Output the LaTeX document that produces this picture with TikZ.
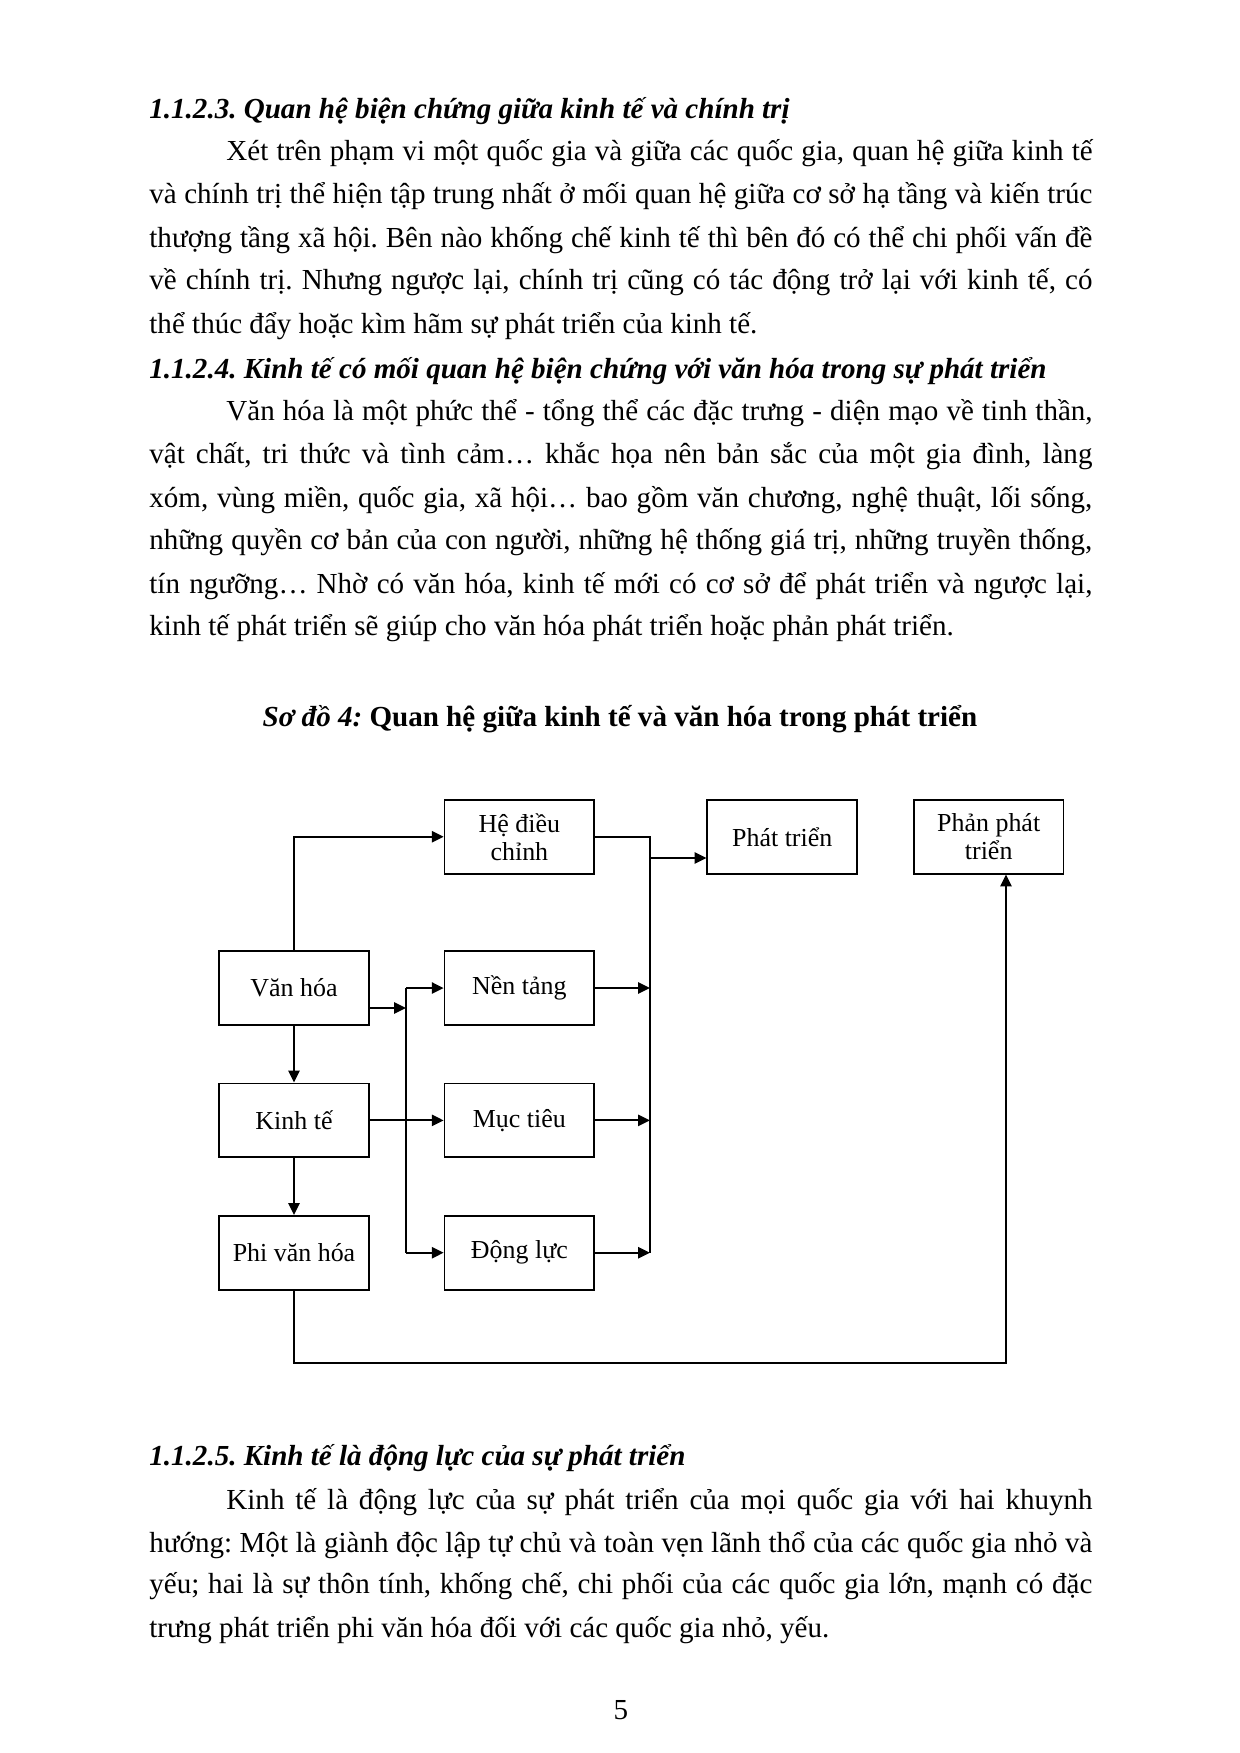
\documentclass[tikz,border=0pt]{standalone}
\usepackage{fontspec}
\setmainfont{Liberation Serif}
\usetikzlibrary{arrows.meta,positioning,calc}
\tikzset{
    x=0.16935mm, y=-0.16935mm,
    >={Triangle[length=2mm,width=1.9mm]},
    box/.style ={rectangle, draw, line width=0.9pt, minimum width=25.35mm, minimum height=12.5mm,
                 align=center, inner sep=1pt, font=\fontsize{12.5}{13.5}\selectfont},
    link/.style = {line width=0.9pt},
    txt/.style = {anchor=base west, inner sep=0pt, font=\fontsize{14}{16}\selectfont},
    head/.style = {txt, font=\fontsize{14}{16}\selectfont\bfseries\itshape},
    mid/.style = {anchor=base, inner sep=0pt, font=\fontsize{14}{16}\selectfont}
}
\newcommand{\fullline}[1]{\makebox[159.7mm][s]{#1}}
\newcommand{\indline}[1]{\makebox[146.7mm][s]{#1}}
\frenchspacing

\begin{document}
\begin{tikzpicture}
    \useasboundingbox (0,0) rectangle (1240,1753);

    % text above the diagram
    \node[head] (h1) at (149,118) {1.1.2.3. Quan hệ biện chứng giữa kinh tế và chính trị};
    \node[txt] (a1) at (226,160) {\indline{Xét trên phạm vi một quốc gia và giữa các quốc gia, quan hệ giữa kinh tế}};
    \node[txt] (a2) at (149,203) {\fullline{và chính trị thể hiện tập trung nhất ở mối quan hệ giữa cơ sở hạ tầng và kiến trúc}};
    \node[txt] (a3) at (149,247) {\fullline{thượng tầng xã hội. Bên nào khống chế kinh tế thì bên đó có thể chi phối vấn đề}};
    \node[txt] (a4) at (149,289) {\fullline{về chính trị. Nhưng ngược lại, chính trị cũng có tác động trở lại với kinh tế, có}};
    \node[txt] (a5) at (149,333) {thể thúc đẩy hoặc kìm hãm sự phát triển của kinh tế.};

    \node[head] (h2) at (149,378) {1.1.2.4. Kinh tế có mối quan hệ biện chứng với văn hóa trong sự phát triển};
    \node[txt] (b1) at (226,420) {\indline{Văn hóa là một phức thể - tổng thể các đặc trưng - diện mạo về tinh thần,}};
    \node[txt] (b2) at (149,463) {\fullline{vật chất, tri thức và tình cảm… khắc họa nên bản sắc của một gia đình, làng}};
    \node[txt] (b3) at (149,507) {\fullline{xóm, vùng miền, quốc gia, xã hội… bao gồm văn chương, nghệ thuật, lối sống,}};
    \node[txt] (b4) at (149,549) {\fullline{những quyền cơ bản của con người, những hệ thống giá trị, những truyền thống,}};
    \node[txt] (b5) at (149,593) {\fullline{tín ngưỡng… Nhờ có văn hóa, kinh tế mới có cơ sở để phát triển và ngược lại,}};
    \node[txt] (b6) at (149,635) {kinh tế phát triển sẽ giúp cho văn hóa phát triển hoặc phản phát triển.};

    \node[mid, font=\fontsize{14}{16}\selectfont\bfseries] (cap) at (620,726) {\textit{Sơ đồ 4:} Quan hệ giữa kinh tế và văn hóa trong phát triển};

    % diagram
    \node[box] (4) at (294,988) {Văn hóa};
    \node[box] (5) [right=12.5mm of 4] {Nền tảng};
    \node[box] (6) [below=9.6mm of 4] {Kinh tế};
    \node[box] (7) [right=12.5mm of 6] {Mục tiêu};
    \node[box] (8) [below=9.6mm of 6] {Phi văn hóa};
    \node[box] (9) [right=12.5mm of 8] {Động lực};
    \node[box] (1) [above=12.8mm of 5] {Hệ điều\\chỉnh};
    \node[box] (2) [right=18.85mm of 1] {Phát triển};
    \node[box] (3) [right=9.3mm of 2] {Phản phát\\triển};

    \coordinate (lb) at (406,0);
    \coordinate (rb) at (650,0);
    \coordinate (vhin) at (406,1008);
    \coordinate (ptin) at (650,858);
    \coordinate (fb) at (1006,1363);

    \draw[link,->] (4.north) |- (1.west);
    \draw[link,->] (4) -- (6);
    \draw[link,->] (6) -- (8);
    \draw[link,->] (4.east |- vhin) -- (vhin);
    \draw[link] (lb |- 5.west) -- (lb |- 9.west);
    \draw[link,->] (lb |- 5.west) -- (5.west);
    \draw[link,->] (lb |- 9.west) -- (9.west);
    \draw[link,->] (6) -- (7);
    \draw[link] (1.east) -| (rb |- 9.east);
    \draw[link,->] (5) -- (rb |- 5.east);
    \draw[link,->] (7) -- (rb |- 7.east);
    \draw[link,->] (9) -- (rb |- 9.east);
    \draw[link,->] (ptin) -- (ptin -| 2.west);
    \draw[link,->] (8.south) |- (fb) -- (fb |- 3.south);

    % text below the diagram
    \node[head] (h3) at (149,1465) {1.1.2.5. Kinh tế là động lực của sự phát triển};
    \node[txt] (c1) at (226,1509) {\indline{Kinh tế là động lực của sự phát triển của mọi quốc gia với hai khuynh}};
    \node[txt] (c2) at (149,1552) {\fullline{hướng: Một là giành độc lập tự chủ và toàn vẹn lãnh thổ của các quốc gia nhỏ và}};
    \node[txt] (c3) at (149,1593) {\fullline{yếu; hai là sự thôn tính, khống chế, chi phối của các quốc gia lớn, mạnh có đặc}};
    \node[txt] (c4) at (149,1637) {trưng phát triển phi văn hóa đối với các quốc gia nhỏ, yếu.};

    \node[mid] (pg) at (621,1719) {5};
\end{tikzpicture}
\end{document}
